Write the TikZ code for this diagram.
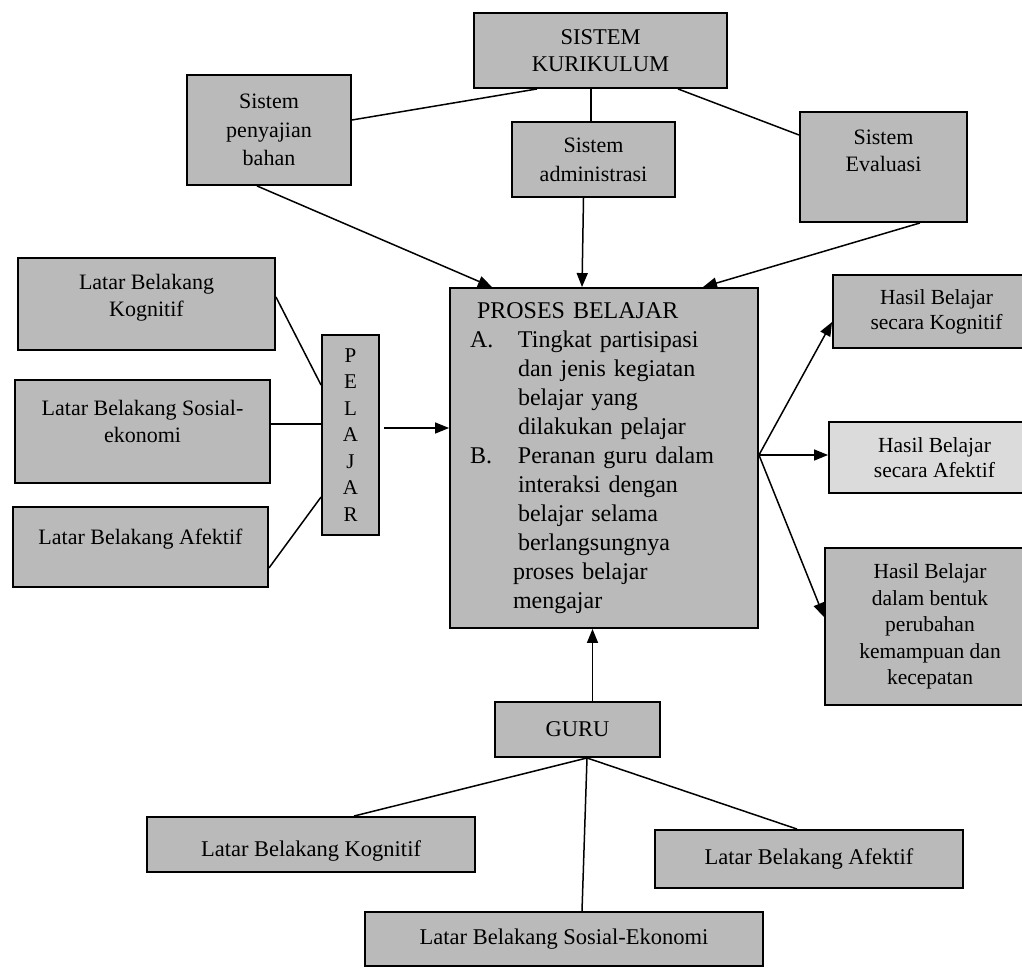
\documentclass[tikz,border=0pt]{standalone}
\usepackage{fontspec}
\setmainfont{Liberation Serif}
\usetikzlibrary{arrows.meta}
\begin{document}
\begin{tikzpicture}[x=1pt,y=-1pt,
  box/.style={draw=black, line width=1.9pt, fill=black!27, align=center, inner sep=0pt,
              font=\fontsize{22}{27}\selectfont},
  link/.style={line width=1.5pt},
  arr/.style={line width=1.5pt, -{Triangle[length=14pt,width=11pt]}}]
\useasboundingbox (0,0) rectangle (1022,971);

% top system boxes
\node[box, minimum width=253pt, minimum height=75pt, font=\fontsize{22.5}{27}\selectfont] (sk) at (600.5,50.5) {SISTEM\\KURIKULUM};
\node[box, minimum width=164pt, minimum height=110pt, font=\fontsize{22}{28.5}\selectfont] (pen) at (269,130) {Sistem\\penyajian\\bahan};
\node[box, minimum width=163pt, minimum height=75pt, font=\fontsize{22}{29}\selectfont] (adm) at (593.5,159.5) {Sistem\\administrasi};
\node[box, minimum width=167pt, minimum height=110pt, text depth=32pt] (ev) at (883.5,167) {Sistem\\Evaluasi};

% central box
\node[box, minimum width=308pt, minimum height=340pt, text width=288pt, align=left,
      font=\fontsize{24}{29}\selectfont] (pr) at (604,458) {%
\hspace*{17pt}PROSES BELAJAR\\
\hspace*{10pt}\makebox[48pt][l]{A.}Tingkat partisipasi\\
\hspace*{58pt}dan jenis kegiatan\\
\hspace*{58pt}belajar yang\\
\hspace*{58pt}dilakukan pelajar\\
\hspace*{10pt}\makebox[48pt][l]{B.}Peranan guru dalam\\
\hspace*{58pt}interaksi dengan\\
\hspace*{58pt}belajar selama\\
\hspace*{58pt}berlangsungnya\\
\hspace*{53pt}proses belajar\\
\hspace*{53pt}mengajar};

% learner side
\node[box, minimum width=57pt, minimum height=200pt, font=\fontsize{21}{26.5}\selectfont] (pel) at (350.5,435) {P\\E\\L\\A\\J\\A\\R};
\node[box, minimum width=257pt, minimum height=92pt, text depth=18pt] (lk) at (146.5,304) {Latar Belakang\\Kognitif};
\node[box, minimum width=255pt, minimum height=103pt, text depth=20pt] (ls) at (142.5,431.5) {Latar Belakang Sosial-\\ekonomi};
\node[box, minimum width=255pt, minimum height=80pt, text depth=20pt] (la) at (140.5,547) {Latar Belakang Afektif};

% results
\node[box, minimum width=207pt, minimum height=73pt, font=\fontsize{21.5}{25}\selectfont] (hk) at (936.5,311.5) {Hasil Belajar\\secara Kognitif};
\node[box, fill=black!14, minimum width=211pt, minimum height=71pt, font=\fontsize{21.5}{25}\selectfont] (ha) at (934.5,457.5) {Hasil Belajar\\secara Afektif};
\node[box, minimum width=210pt, minimum height=157pt, font=\fontsize{21.5}{26.5}\selectfont] (hd) at (930,626.5) {Hasil Belajar\\dalam bentuk\\perubahan\\kemampuan dan\\kecepatan};

% teacher side
\node[box, minimum width=165pt, minimum height=55pt, font=\fontsize{22.5}{27}\selectfont] (gu) at (577.5,729.5) {GURU};
\node[box, minimum width=328pt, minimum height=55pt, font=\fontsize{22.5}{27}\selectfont, text height=29pt] (gk) at (311,844.5) {Latar Belakang Kognitif};
\node[box, minimum width=308pt, minimum height=58pt, font=\fontsize{22.5}{27}\selectfont] (ga) at (809,859) {Latar Belakang Afektif};
\node[box, minimum width=398pt, minimum height=54pt, font=\fontsize{22.5}{27}\selectfont] (gs) at (564,939) {Latar Belakang Sosial-Ekonomi};

% connectors: curriculum
\draw[link] ([yshift=10pt]pen.east) -- ([xshift=-63.5pt]sk.south);
\draw[link] ([xshift=-9.5pt]sk.south) -- ([xshift=-2.5pt]adm.north);
\draw[link] ([xshift=77.5pt]sk.south) -- ([yshift=32pt]ev.west);
\draw[arr] ([xshift=-12pt]pen.south) -- ([xshift=-112pt]pr.north);
\draw[arr] ([xshift=-10pt]adm.south) -- ([xshift=-22pt]pr.north);
\draw[arr] ([xshift=36.5pt]ev.south) -- ([xshift=99pt]pr.north);

% connectors: learner
\draw[link] ([yshift=7pt]lk.east) -- ([yshift=50pt]pel.west);
\draw[link] ([yshift=7.5pt]ls.east) -- ([yshift=7.5pt]ls.east -| pel.west);
\draw[link] ([yshift=-21pt]la.east) -- ([yshift=-62pt]pel.west);
\draw[arr, shorten <=4pt] ([yshift=7pt]pel.east) -- ([yshift=7pt]pel.east -| pr.west);

% connectors: results
\coordinate (po) at ([yshift=3pt]pr.east);
\draw[arr] (po) -- ([yshift=-10.5pt]hk.west);
\draw[arr] (po) -- (po -| ha.west);
\draw[arr] (po) -- ([yshift=9.5pt]hd.west);

% connectors: teacher
\draw[arr] ([xshift=15pt]gu.north) -- ([xshift=15pt]gu.north |- pr.south);
\coordinate (gb) at ([xshift=9.5pt]gu.south);
\draw[link] (gb) -- ([xshift=43pt]gk.north);
\draw[link] (gb) -- ([xshift=18pt]gs.north);
\draw[link] (gb) -- ([xshift=-12pt]ga.north);
\end{tikzpicture}
\end{document}
